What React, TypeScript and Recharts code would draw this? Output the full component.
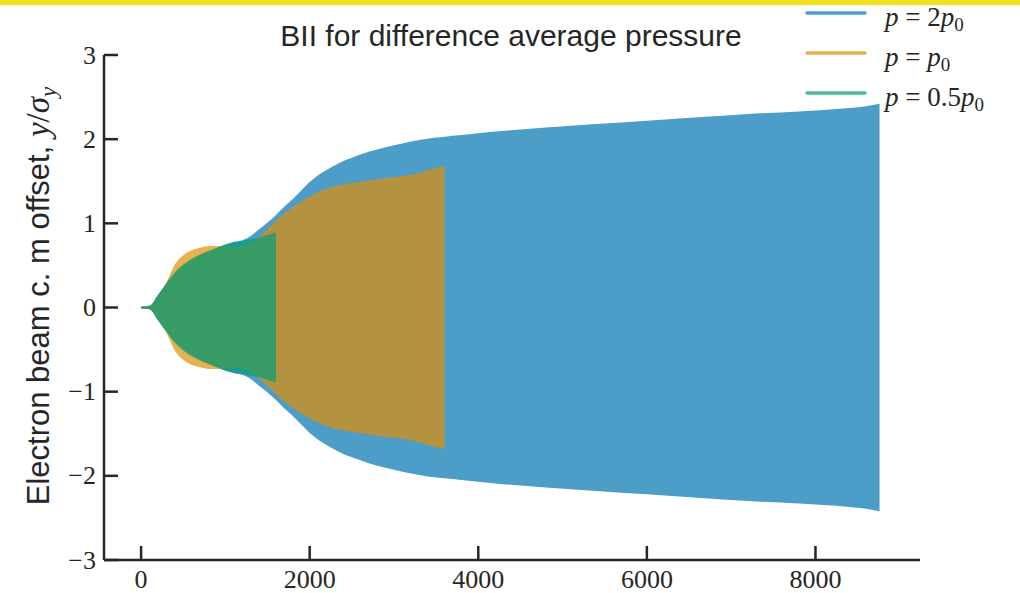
import React from "react";
import { ComposedChart, Area, XAxis, YAxis } from "recharts";

const X_GRID = [
  0, 100, 200, 300, 400, 500, 600, 700, 800, 900, 1000, 1100, 1200, 1300, 1400,
  1500, 1600, 1700, 1800, 1900, 2000, 2100, 2200, 2300, 2400, 2500, 2700, 2900,
  3100, 3300, 3500, 3600, 3800, 4200, 4800, 5400, 6000, 6600, 7200, 7800, 8400,
  8600, 8760,
];

const AMP_2P0 = [
  0.012, 0.02, 0.15, 0.28, 0.4, 0.49, 0.56, 0.62, 0.67, 0.71, 0.75, 0.78, 0.8,
  0.85, 0.93, 1.01, 1.1, 1.2, 1.29, 1.39, 1.49, 1.57, 1.635, 1.69, 1.74, 1.78,
  1.85, 1.905, 1.95, 1.99, 2.02, 2.03, 2.05, 2.09, 2.14, 2.18, 2.22, 2.26, 2.3,
  2.33, 2.37, 2.39, 2.42,
];

const AMP_P0 = [
  0.012, 0.02, 0.13, 0.3, 0.51, 0.62, 0.68, 0.71, 0.73, 0.73, 0.73, 0.72, 0.73,
  0.77, 0.84, 0.93, 1.03, 1.12, 1.19, 1.26, 1.32, 1.37, 1.41, 1.44, 1.46, 1.48,
  1.51, 1.54, 1.56, 1.6, 1.66, 1.68,
];

const AMP_05P0 = [
  0.012, 0.02, 0.15, 0.29, 0.42, 0.51, 0.58, 0.63, 0.67, 0.71, 0.75, 0.77, 0.79,
  0.81, 0.83, 0.86, 0.89,
];

const X_TICKS = [0, 2000, 4000, 6000, 8000];
const Y_TICKS = [-3, -2, -1, 0, 1, 2, 3];

const SERIES = [
  { key: "p2", amp: AMP_2P0, color: "#0173B2", coef: "2" },
  { key: "p1", amp: AMP_P0, color: "#DE8F05", coef: "" },
  { key: "p05", amp: AMP_05P0, color: "#029E73", coef: "0.5" },
];

const rows = X_GRID.map((x, i) => {
  const row: any = { x };
  SERIES.forEach((s) => {
    const a = s.amp[i];
    row[s.key] = a === undefined ? null : [-a, a];
  });
  return row;
});

const AXIS = "#262626";
const SERIF = "'Liberation Serif', 'DejaVu Serif', serif";
const SANS = "'Liberation Sans', Arial, sans-serif";

const fmt = (v: number) => (v < 0 ? "\u2212" + Math.abs(v) : String(v));

const YTick = (props: any) => {
  const { x, y, payload } = props;
  return (
    <g>
      <line x1={x} y1={y} x2={x + 14} y2={y} stroke={AXIS} strokeWidth={2.5} />
      <text
        x={x - 8}
        y={y}
        textAnchor="end"
        dominantBaseline="central"
        fontFamily={SERIF}
        fontSize={26}
        fill={AXIS}
      >
        {fmt(payload.value)}
      </text>
    </g>
  );
};

const XTick = (props: any) => {
  const { x, y, payload } = props;
  return (
    <g>
      <line x1={x} y1={y} x2={x} y2={y - 14} stroke={AXIS} strokeWidth={2.5} />
      <text
        x={x}
        y={y + 28}
        textAnchor="middle"
        fontFamily={SERIF}
        fontSize={26}
        fill={AXIS}
      >
        {payload.value}
      </text>
    </g>
  );
};

export default function App() {
  return (
    <div
      style={{
        position: "absolute",
        left: 0,
        top: 0,
        width: 1020,
        height: 593,
        background: "#fff",
      }}
    >
      <ComposedChart
        width={1020}
        height={593}
        data={rows}
        margin={{ top: 55, right: 100, bottom: 0, left: 0 }}
      >
        <XAxis
          type="number"
          dataKey="x"
          domain={[-440, 9240]}
          ticks={X_TICKS}
          allowDataOverflow
          height={33}
          tickSize={0}
          tickMargin={0}
          tickLine={false}
          axisLine={{ stroke: AXIS, strokeWidth: 2.5 }}
          tick={<XTick />}
        />
        <YAxis
          type="number"
          domain={[-3, 3]}
          ticks={Y_TICKS}
          width={104}
          tickSize={0}
          tickMargin={0}
          tickLine={false}
          axisLine={{ stroke: AXIS, strokeWidth: 2.5 }}
          tick={<YTick />}
        />
        {SERIES.map((s) => (
          <Area
            key={s.key}
            type="monotone"
            dataKey={s.key}
            fill={s.color}
            fillOpacity={0.7}
            stroke="none"
            connectNulls={false}
            isAnimationActive={false}
          />
        ))}
      </ComposedChart>
      <svg
        width={1020}
        height={593}
        style={{ position: "absolute", left: 0, top: 0, pointerEvents: "none" }}
      >
        <rect x={0} y={0} width={1020} height={5} fill="#F0E01E" />
        <text
          x={511}
          y={46}
          textAnchor="middle"
          fontFamily={SANS}
          fontSize={30}
          fill={AXIS}
        >
          BII for difference average pressure
        </text>
        <text
          x={49}
          y={296}
          transform="rotate(-90, 49, 296)"
          textAnchor="middle"
          fontSize={31}
          fill={AXIS}
        >
          <tspan fontFamily={SANS}>Electron beam c. m offset, </tspan>
          <tspan fontFamily={SERIF} fontStyle="italic" fontSize={33}>y</tspan>
          <tspan fontFamily={SERIF} fontSize={33}>/</tspan>
          <tspan fontFamily={SERIF} fontStyle="italic" fontSize={33}>σ</tspan>
          <tspan fontFamily={SERIF} fontStyle="italic" fontSize={23} dy={7}>
            y
          </tspan>
        </text>
        {SERIES.map((s, i) => (
          <g key={s.key}>
            <line
              x1={807}
              x2={865}
              y1={13 + i * 40}
              y2={13 + i * 40}
              stroke={s.color}
              strokeOpacity={0.7}
              strokeWidth={3.5}
              strokeLinecap="round"
            />
            <text
              x={885}
              y={26 + i * 40}
              fontFamily={SERIF}
              fontSize={27}
              fill={AXIS}
            >
              <tspan fontStyle="italic">p</tspan>
              <tspan> = {s.coef}</tspan>
              <tspan fontStyle="italic">p</tspan>
              <tspan fontSize={19} dy={5}>
                0
              </tspan>
            </text>
          </g>
        ))}
      </svg>
    </div>
  );
}
